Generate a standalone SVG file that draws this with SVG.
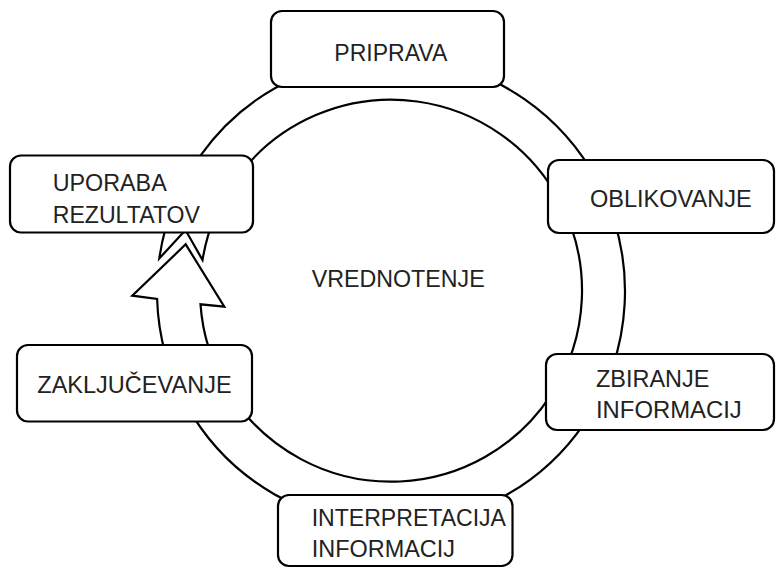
<svg xmlns="http://www.w3.org/2000/svg" width="776" height="568" viewBox="0 0 776 568">
<style>
.box{fill:#fff;stroke:#000;stroke-width:2.2}
.ring{fill:#fff;stroke:#000;stroke-width:2.2;stroke-linejoin:miter}
.t{font-family:"Liberation Sans",Arial,sans-serif;font-size:24px;fill:#222}
</style>
<rect width="776" height="568" fill="#fff"/>
<g id="connectors">
<path class="ring" d="M159.3,258.5 A234,234 0 1 1 157.1,299 L132.3,295.7 L185.7,244.3 L224.3,306.7 L200.5,304.3 A191,191 0 1 0 202.5,260 L185.5,230 Z"/>
</g>
<g id="center">
<text class="t" x="311.7" y="286.7" textLength="173" lengthAdjust="spacingAndGlyphs">VREDNOTENJE</text>
</g>
<g id="priprava">
<rect class="box" x="271" y="11" width="233" height="76" rx="11"/>
<text class="t" x="334.3" y="60.7" textLength="113" lengthAdjust="spacingAndGlyphs">PRIPRAVA</text>
</g>
<g id="oblikovanje">
<rect class="box" x="548" y="160" width="226" height="73" rx="11"/>
<text class="t" x="590" y="206.7" textLength="161.7" lengthAdjust="spacingAndGlyphs">OBLIKOVANJE</text>
</g>
<g id="zbiranje">
<rect class="box" x="546" y="354" width="228" height="76" rx="11"/>
<text class="t" x="596" y="387.3" textLength="113.3" lengthAdjust="spacingAndGlyphs">ZBIRANJE</text>
<text class="t" x="596" y="418.3" textLength="145.7" lengthAdjust="spacingAndGlyphs">INFORMACIJ</text>
</g>
<g id="interpretacija">
<rect class="box" x="278" y="495" width="234.5" height="71" rx="11"/>
<text class="t" x="311.7" y="525.7" textLength="194.3" lengthAdjust="spacingAndGlyphs">INTERPRETACIJA</text>
<text class="t" x="311.7" y="556.7" textLength="143.3" lengthAdjust="spacingAndGlyphs">INFORMACIJ</text>
</g>
<g id="zakljucevanje">
<rect class="box" x="17" y="345" width="235" height="76.5" rx="11"/>
<text class="t" x="37.3" y="393.3" textLength="194.3" lengthAdjust="spacingAndGlyphs">ZAKLJUČEVANJE</text>
</g>
<g id="uporaba">
<rect class="box" x="10" y="155.5" width="243" height="77" rx="11"/>
<text class="t" x="52.7" y="190.7" textLength="114" lengthAdjust="spacingAndGlyphs">UPORABA</text>
<text class="t" x="52.7" y="222.7" textLength="147.3" lengthAdjust="spacingAndGlyphs">REZULTATOV</text>
</g>
</svg>
